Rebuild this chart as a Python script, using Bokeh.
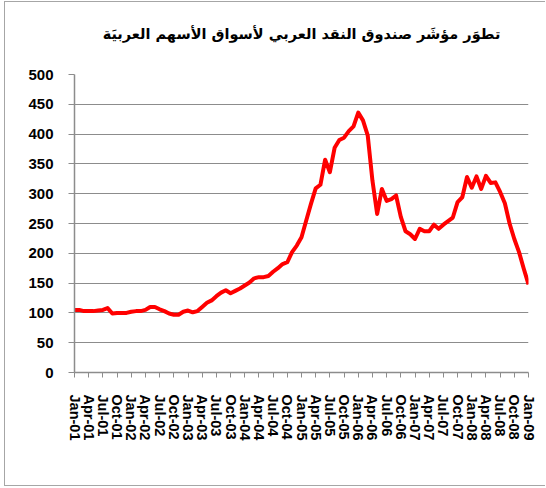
from bokeh.plotting import figure
from bokeh.models import FixedTicker, Range1d, Title
from bokeh.embed import file_html
from bokeh.resources import INLINE

title_text = "تطوَر مؤشَر صندوق النقد العربي لأسواق الأسهم العربيَة"

# month index 0 = Jan-01 ... 96 = Jan-09
months = list(range(97))
values = [105, 105, 103, 103, 103, 104, 105, 108, 99, 100,
          100, 100, 102, 103, 103, 105, 110, 110, 106, 103,
          99, 97, 97, 102, 104, 101, 103, 110, 117, 121,
          128, 134, 138, 133, 137, 141, 146, 151, 158, 160,
          160, 162, 169, 175, 182, 185, 202, 213, 227, 255,
          283, 309, 315, 357, 336, 377, 390, 394, 405, 413,
          436, 423, 398, 322, 266, 308, 288, 291, 297, 261,
          237, 232, 224, 241, 237, 237, 248, 241, 248, 254,
          260, 286, 294, 328, 310, 329, 308, 330, 318, 319,
          303, 284, 250, 224, 202, 174, 148]

tick_positions = list(range(0, 97, 3))
tick_labels = ["Jan-01", "Apr-01", "Jul-01", "Oct-01",
               "Jan-02", "Apr-02", "Jul-02", "Oct-02",
               "Jan-03", "Apr-03", "Jul-03", "Oct-03",
               "Jan-04", "Apr-04", "Jul-04", "Oct-04",
               "Jan-05", "Apr-05", "Jul-05", "Oct-05",
               "Jan-06", "Apr-06", "Jul-06", "Oct-06",
               "Jan-07", "Apr-07", "Jul-07", "Oct-07",
               "Jan-08", "Apr-08", "Jul-08", "Oct-08",
               "Jan-09"]
y_ticks = [0, 50, 100, 150, 200, 250, 300, 350, 400, 450, 500]

GRID = "#8c8c8c"

p = figure(width=541, height=485, output_backend="svg", toolbar_location=None,
           x_range=Range1d(0, 96), y_range=Range1d(0, 500),
           min_border_left=69, min_border_right=18,
           min_border_top=72, min_border_bottom=115,
           styles={"margin-left": "4px", "margin-top": "1px",
                   "border-left": "1px solid #a6a6a6",
                   "border-top": "1px solid #a6a6a6",
                   "border-bottom": "1px solid #a6a6a6"})

p.line(months, values, line_color="#ff0000", line_width=4, line_join="round")

p.title.text = title_text
p.title.align = "center"
p.title.offset = -11
p.title.text_font = "DejaVu Sans"
p.title.text_font_size = "14.5px"
p.title.text_font_style = "bold"
p.title.text_color = "black"
p.title.standoff = 0

# spacer placed between the frame and the title
spacer = Title(text=" ", text_font_size="10px", standoff=20)
p.add_layout(spacer, "above")

p.outline_line_color = None
p.xgrid.grid_line_color = None
p.ygrid.grid_line_color = GRID
p.ygrid.grid_line_width = 1
p.ygrid.ticker = FixedTicker(ticks=y_ticks)

p.yaxis.ticker = FixedTicker(ticks=y_ticks)
p.yaxis.axis_line_color = GRID
p.yaxis.axis_line_width = 1.5
p.yaxis.major_tick_line_color = GRID
p.yaxis.major_tick_in = 0
p.yaxis.major_tick_out = 6
p.yaxis.minor_tick_line_color = None
p.yaxis.major_label_standoff = 15
p.yaxis.major_label_text_font = "Liberation Sans"
p.yaxis.major_label_text_font_style = "bold"
p.yaxis.major_label_text_font_size = "15px"
p.yaxis.major_label_text_color = "black"

p.xaxis.ticker = FixedTicker(ticks=tick_positions)
p.xaxis.major_label_overrides = {pos: lab for pos, lab in zip(tick_positions, tick_labels)}
p.xaxis.major_label_orientation = "vertical"
p.xaxis.axis_line_color = GRID
p.xaxis.axis_line_width = 1.5
p.xaxis.major_tick_line_color = GRID
p.xaxis.major_tick_in = 0
p.xaxis.major_tick_out = 5
p.xaxis.minor_tick_line_color = None
p.xaxis.major_label_standoff = 17
p.xaxis.major_label_text_font = "Liberation Sans"
p.xaxis.major_label_text_font_style = "bold"
p.xaxis.major_label_text_font_size = "14.5px"
p.xaxis.major_label_text_color = "black"

open("out.html", "w").write(file_html(p, INLINE))
